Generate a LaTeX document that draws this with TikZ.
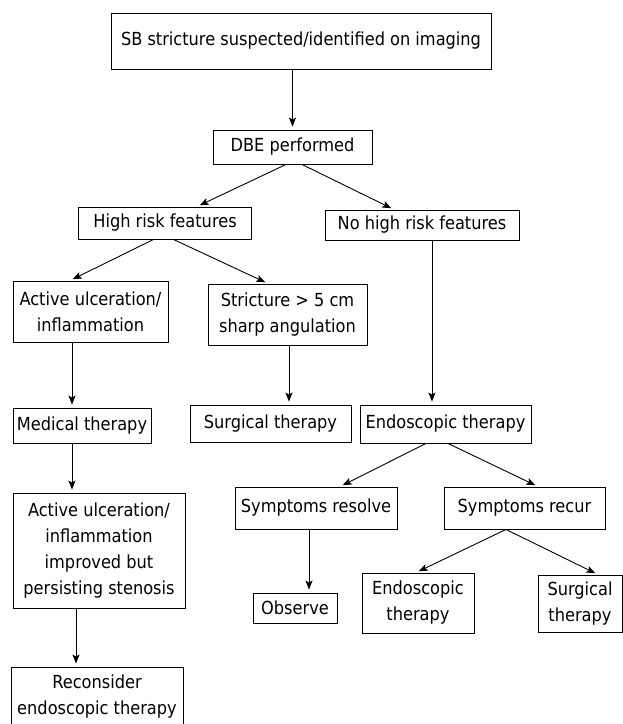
\documentclass[tikz,border=0pt]{standalone}
\usepackage{fontspec}
\setmainfont{DejaVu Sans Condensed}
\usetikzlibrary{arrows.meta}
\begin{document}
\begin{tikzpicture}[x=1pt,y=-1pt,
    box/.style={draw, line width=0.9pt, align=center, inner sep=1pt, font=\fontsize{18}{26}\selectfont},
    arr/.style={-{Stealth[length=9pt,width=7pt,inset=2pt]}, line width=0.9pt, shorten >=3pt}]
\useasboundingbox (0,0) rectangle (623,724);
% boxes
\node[box, minimum width=380pt, minimum height=56pt] (susp) at (301,41) {SB stricture suspected/identified on imaging};
\node[box, minimum width=159pt, minimum height=34pt] (dbe) at (292.5,147) {DBE performed};
\node[box, minimum width=173pt, minimum height=32pt] (high) at (165,223) {High risk features};
\node[box, minimum width=194pt, minimum height=30pt] (nohigh) at (422,225) {No high risk features};
\node[box, minimum width=155pt, minimum height=61pt] (act) at (90.5,311.5) {Active ulceration/\\inflammation};
\node[box, minimum width=159pt, minimum height=61pt] (stric) at (287.5,314.5) {Stricture > 5 cm\\sharp angulation};
\node[box, minimum width=138pt, minimum height=35pt] (med) at (82,425.5) {Medical therapy};
\node[box, minimum width=161pt, minimum height=37pt] (surg) at (270.5,423.5) {Surgical therapy};
\node[box, minimum width=171pt, minimum height=38pt] (endo) at (445.5,424) {Endoscopic therapy};
\node[box, minimum width=162pt, minimum height=42pt] (resolve) at (316,508) {Symptoms resolve};
\node[box, minimum width=161pt, minimum height=42pt] (recur) at (524.5,508) {Symptoms recur};
\node[box, minimum width=172pt, minimum height=115pt] (improv) at (99,550.5) {Active ulceration/\\inflammation\\improved but\\persisting stenosis};
\node[box, minimum width=84pt, minimum height=30pt] (observe) at (295,608) {Observe};
\node[box, minimum width=112pt, minimum height=60pt] (endob) at (418,603) {Endoscopic\\therapy};
\node[box, minimum width=84pt, minimum height=57pt] (surgb) at (580,603.5) {Surgical\\therapy};
\node[box, minimum width=172pt, minimum height=60pt] (recon) at (97,697) {Reconsider\\endoscopic therapy};
% arrows
\draw[arr] ([xshift=-8.5pt]susp.south) -- (dbe.north);
\draw[arr] ([xshift=-6.5pt]dbe.south) -- ([xshift=32pt]high.north);
\draw[arr] ([xshift=9.5pt]dbe.south) -- ([xshift=-28pt]nohigh.north);
\draw[arr] ([xshift=-11.5pt]high.south) -- ([xshift=-20.5pt]act.north);
\draw[arr] ([xshift=8.5pt]high.south) -- ([xshift=-19.5pt]stric.north);
\draw[arr] ([xshift=10pt]nohigh.south) -- ([xshift=-13.5pt]endo.north);
\draw[arr] ([xshift=-18.5pt]act.south) -- ([xshift=-10pt]med.north);
\draw[arr] ([xshift=1.5pt]stric.south) -- ([xshift=18.5pt]surg.north);
\draw[arr] ([xshift=-10pt]med.south) -- ([xshift=-27pt]improv.north);
\draw[arr] ([xshift=-23pt]improv.south) -- ([xshift=-21pt]recon.north);
\draw[arr] ([xshift=-19.5pt]endo.south) -- ([xshift=24pt]resolve.north);
\draw[arr] ([xshift=2.5pt]endo.south) -- ([xshift=13.5pt]recur.north);
\draw[arr] ([xshift=-7pt]resolve.south) -- ([xshift=14pt]observe.north);
\draw[arr] ([xshift=-18.5pt]recur.south) -- ([xshift=-2pt]endob.north);
\draw[arr] ([xshift=-18.5pt]recur.south) -- ([xshift=18pt]surgb.north);
\end{tikzpicture}
\end{document}
